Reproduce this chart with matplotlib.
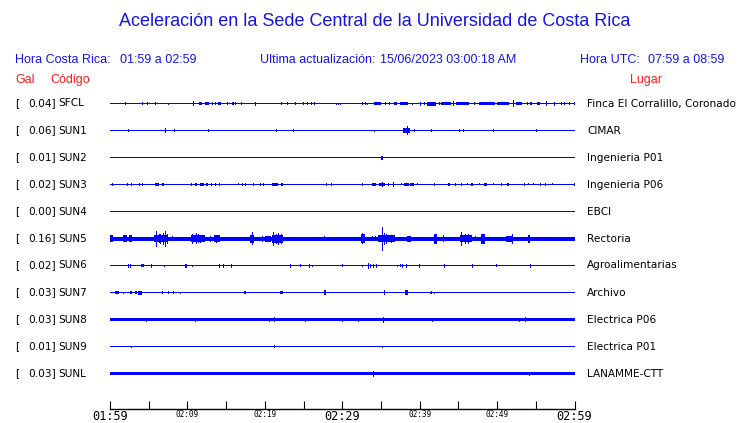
import matplotlib
matplotlib.use("Agg")
import matplotlib.pyplot as plt

# ---------------- data ----------------
codes = ["SFCL", "SUN1", "SUN2", "SUN3", "SUN4", "SUN5", "SUN6", "SUN7", "SUN8", "SUN9", "SUNL"]
gal = ["0.04", "0.06", "0.01", "0.02", "0.00", "0.16", "0.02", "0.03", "0.03", "0.01", "0.03"]
places = ["Finca El Corralillo, Coronado", "CIMAR", "Ingenieria P01", "Ingenieria P06", "EBCI",
          "Rectoria", "Agroalimentarias", "Archivo", "Electrica P06", "Electrica P01", "LANAMME-CTT"]
# half thickness of each quiet trace (px)
base_amp = [0.5, 0.5, 0.5, 0.5, 0.5, 2.0, 0.5, 0.5, 1.5, 0.5, 1.5]

tick_minutes = [0, 5, 10, 15, 20, 25, 30, 35, 40, 45, 50, 55, 60]
tick_labels = ["01:59", "", "02:09", "", "02:19", "", "02:29", "", "02:39", "", "02:49", "", "02:59"]
big_labels = ["01:59", "02:29", "02:59"]

# events: (start minute, end minute, half amplitude px)
EV_SFCL = [(2.0, 2.0, 1.5), (4.17, 4.17, 1.5), (4.82, 4.82, 1.5), (5.85, 5.85, 1.5), (7.5, 7.5, 1.0),
           (10.66, 10.7, 2.5), (11.5, 11.9, 1.5), (12.3, 12.8, 1.5), (13.2, 13.2, 1.5), (13.6, 13.6, 1.5),
           (14.0, 14.3, 1.5), (15.1, 15.1, 1.5), (15.7, 15.7, 1.5), (15.95, 15.95, 1.5), (16.2, 16.2, 1.5),
           (16.9, 16.9, 1.5), (18.7, 18.8, 2.0), (22.1, 22.1, 1.5), (22.9, 22.9, 1.5), (23.9, 23.9, 1.5),
           (24.9, 24.9, 1.5), (25.4, 25.4, 1.5), (26.0, 26.0, 1.5), (26.3, 26.3, 1.5), (29.2, 29.2, 1.0),
           (29.5, 29.5, 1.0), (29.7, 29.7, 1.0), (32.6, 32.6, 1.5), (32.9, 32.9, 1.5), (33.2, 33.2, 1.0),
           (34.1, 35.0, 1.5), (35.5, 35.5, 1.5), (36.0, 36.0, 1.5), (36.7, 37.1, 1.5), (37.5, 38.5, 1.5),
           (39.0, 39.0, 1.0), (40.0, 40.0, 2.0), (40.6, 40.6, 1.5), (41.0, 42.1, 2.0), (42.5, 42.5, 1.5),
           (42.8, 44.1, 1.5), (44.3, 44.35, 2.5), (44.7, 46.4, 1.5), (47.0, 47.0, 1.5), (47.7, 49.7, 1.5),
           (50.0, 51.6, 1.5), (52.0, 52.05, 3.5), (52.5, 53.2, 1.5), (53.8, 54.0, 1.5), (54.3, 54.5, 1.5),
           (55.1, 55.5, 1.5), (56.3, 56.35, 2.5), (57.3, 57.3, 2.0), (58.3, 58.3, 1.5), (58.7, 58.7, 1.5),
           (59.3, 59.3, 1.5), (59.9, 59.9, 1.5)]
EV_SUN1 = [(2.37, 2.37, 1.5), (7.1, 7.15, 2.5), (8.3, 8.3, 1.5), (12.7, 12.7, 1.5), (21.4, 21.6, 1.5),
           (23.7, 23.7, 1.5), (34.1, 34.1, 1.0), (37.9, 38.7, 2.5), (38.3, 38.35, 4.5), (39.3, 39.3, 1.5),
           (41.5, 41.5, 1.5), (45.1, 45.1, 1.5), (45.6, 45.6, 1.5), (49.5, 49.5, 1.5), (55.0, 55.0, 1.5)]
EV_SUN2 = [(35.05, 35.3, 2.0)]
EV_SUN3 = [(0.3, 0.3, 1.5), (2.15, 2.15, 1.5), (2.7, 2.7, 1.5), (3.8, 3.8, 1.5), (4.1, 4.1, 1.5),
           (5.8, 6.3, 1.5), (6.7, 7.0, 1.5), (10.5, 10.5, 1.5), (11.0, 11.3, 1.5), (11.65, 12.1, 1.5),
           (12.4, 12.7, 1.5), (13.1, 13.1, 1.5), (13.5, 13.5, 1.5), (14.1, 14.1, 1.5), (16.5, 16.5, 1.0),
           (17.1, 17.1, 1.5), (17.5, 17.5, 1.5), (18.5, 18.5, 1.5), (19.4, 19.4, 1.5), (19.7, 19.7, 1.5),
           (20.9, 20.9, 1.5), (21.1, 21.7, 1.5), (22.1, 22.4, 1.5), (27.95, 27.95, 1.5), (28.6, 28.6, 1.5),
           (32.5, 32.5, 1.5), (33.8, 33.8, 1.5), (34.0, 34.3, 1.5), (34.8, 35.5, 1.5), (35.1, 35.15, 2.5),
           (35.9, 35.9, 1.5), (36.5, 36.7, 2.5), (37.6, 37.6, 1.0), (38.0, 38.6, 1.5), (38.8, 39.3, 1.5),
           (39.6, 39.6, 1.0), (41.9, 41.9, 1.5), (43.6, 43.9, 1.5), (44.5, 44.5, 1.5), (45.3, 45.3, 1.5),
           (46.1, 46.1, 1.0), (46.6, 46.9, 1.5), (47.7, 47.7, 1.0), (48.3, 48.7, 1.5), (49.5, 49.5, 1.0),
           (50.5, 50.5, 1.5), (51.3, 51.5, 1.5), (53.5, 53.5, 1.5), (54.0, 54.0, 1.0), (54.7, 54.7, 1.0),
           (55.6, 55.6, 1.5), (56.2, 56.2, 1.5), (57.1, 57.1, 1.0), (59.9, 59.9, 1.5)]
EV_SUN4 = []
EV_SUN5 = [(0.0, 0.4, 3.3), (1.7, 2.15, 3.5), (2.45, 2.9, 3.5),
           (5.7, 7.5, 3.5), (6.0, 6.05, 8.0), (6.3, 6.35, 4.5), (6.5, 6.55, 5.0), (6.8, 6.85, 6.0),
           (7.1, 7.15, 8.0), (7.3, 7.35, 5.0), (8.0, 8.0, 2.5),
           (10.4, 12.3, 3.5), (10.6, 10.65, 5.0), (11.1, 11.15, 5.5), (11.35, 11.4, 4.5), (11.6, 11.65, 4.0),
           (12.9, 12.9, 3.0), (13.4, 14.2, 3.5), (13.7, 13.75, 4.0),
           (18.1, 18.6, 4.0), (18.3, 18.35, 6.5),
           (19.6, 19.6, 3.0), (20.0, 20.8, 3.0), (20.9, 22.4, 4.0), (21.1, 21.15, 7.0), (21.4, 21.45, 5.0),
           (21.7, 21.75, 6.0), (22.1, 22.15, 5.0),
           (27.7, 27.7, 2.5), (32.4, 32.9, 4.5), (32.6, 32.65, 5.5), (33.8, 33.8, 2.5), (34.2, 34.2, 2.5),
           (34.6, 36.8, 3.5), (35.1, 35.15, 12.0), (35.4, 35.45, 6.0), (35.7, 35.75, 5.0), (36.3, 36.35, 4.0),
           (38.3, 38.9, 3.0), (41.8, 42.3, 5.0), (43.0, 43.0, 3.5),
           (45.2, 46.7, 3.5), (45.4, 45.45, 7.0), (45.8, 45.85, 5.0), (46.2, 46.25, 5.0),
           (47.2, 47.2, 2.5), (47.9, 48.4, 5.0), (51.2, 52.0, 3.0), (51.9, 51.95, 5.0), (54.0, 54.3, 4.0)]
EV_SUN6 = [(2.36, 2.36, 2.0), (2.6, 2.6, 2.0), (4.0, 4.35, 1.5), (5.3, 5.3, 2.0), (7.0, 7.0, 1.0),
           (9.7, 9.9, 2.0), (10.6, 10.6, 1.0), (14.1, 14.1, 2.0), (14.6, 14.6, 2.0), (15.6, 15.8, 2.0),
           (23.3, 23.3, 2.0), (24.55, 24.55, 1.5), (25.7, 25.7, 2.0), (26.1, 26.1, 1.0), (30.0, 30.0, 1.5),
           (32.6, 32.6, 1.0), (33.3, 33.35, 3.0), (33.6, 33.6, 2.0), (34.0, 34.0, 2.0), (34.3, 34.3, 2.0),
           (37.1, 37.1, 1.0), (37.4, 37.4, 1.5), (37.7, 37.9, 2.0), (38.2, 38.4, 2.0), (39.95, 40.1, 2.0),
           (43.2, 43.3, 2.0), (46.7, 46.8, 2.0), (49.8, 49.8, 1.5), (54.3, 54.4, 2.0)]
EV_SUN7 = [(0.65, 1.1, 1.5), (1.7, 1.7, 1.0), (2.6, 2.9, 1.5), (3.2, 3.2, 1.5), (3.4, 3.4, 1.5),
           (3.65, 4.1, 2.0), (6.75, 6.75, 1.5), (7.5, 7.5, 1.5), (8.2, 8.2, 1.5), (9.0, 9.0, 1.0),
           (17.3, 17.6, 1.5), (21.9, 22.4, 1.5), (27.6, 27.9, 2.5), (35.4, 35.45, 2.5), (38.05, 38.5, 2.5),
           (41.3, 41.3, 1.0), (41.5, 41.6, 1.5), (41.9, 41.9, 1.0)]
EV_SUN8 = [(4.6, 4.6, 2.0), (11.0, 11.0, 2.0), (20.6, 20.6, 2.0), (21.2, 21.2, 2.5), (25.2, 25.2, 2.0),
           (30.0, 30.0, 2.0), (32.0, 32.0, 2.0), (35.2, 35.35, 3.0), (41.6, 41.6, 2.0), (52.8, 52.8, 2.0),
           (53.6, 53.6, 2.5)]
EV_SUN9 = [(2.7, 2.7, 1.0), (21.2, 21.2, 1.5), (35.1, 35.1, 1.0)]
EV_SUNL = [(34.0, 34.0, 3.0), (54.1, 54.1, 2.0)]
events = [EV_SFCL, EV_SUN1, EV_SUN2, EV_SUN3, EV_SUN4, EV_SUN5, EV_SUN6, EV_SUN7, EV_SUN8, EV_SUN9, EV_SUNL]

# ---------------- layout ----------------
W, H = 740, 423
BLUE = "#0000ff"
TBLUE = "#1414e8"
RED = "#ff1a1a"
row0, row_step = 103.5, 27.0
axis_y = 409

fig = plt.figure(figsize=(W / 100, H / 100), dpi=100)
ax = fig.add_axes([110 / W, (H - axis_y) / H, 464.5 / W, axis_y / H])
ax.set_xlim(0, 60)
ax.set_ylim(axis_y, 0)
for s in ["top", "left", "right"]:
    ax.spines[s].set_visible(False)
ax.spines["bottom"].set_linewidth(1.0)
ax.set_yticks([])
ax.set_xticks(tick_minutes)
ax.set_xticklabels(tick_labels)
ax.tick_params(axis="x", direction="in", length=6.0, width=0.8, pad=0.8)
for lab in ax.get_xticklabels():
    lab.set_family("DejaVu Sans Mono")
    lab.set_fontsize(8.6 if lab.get_text() in big_labels else 5.6)

px_min = 60 / 464.5
for i, evs in enumerate(events):
    yc = row0 + i * row_step
    b = base_amp[i]
    ax.bar(0, 2 * b, width=60, bottom=yc - b, align="edge", color=BLUE, linewidth=0,
           antialiased=False)
    for (s, e, a) in evs:
        w = max(e - s, px_min)
        ax.bar(s, 2 * a, width=w, bottom=yc - a, align="edge", color=BLUE, linewidth=0,
               antialiased=False)

    fy = 1 - yc / H
    fig.text(15 / W, fy, "[", fontsize=7.6, family="DejaVu Sans", va="center", ha="left")
    fig.text(56 / W, fy, gal[i] + "]", fontsize=7.6, family="DejaVu Sans", va="center", ha="right")
    fig.text(58 / W, fy, codes[i], fontsize=7.6, family="DejaVu Sans", va="center", ha="left")
    fig.text(587 / W, fy, places[i], fontsize=7.6, family="DejaVu Sans", va="center", ha="left")

def ft(x, y, s, **kw):
    fig.text(x / W, 1 - y / H, s, va="center", family="Liberation Sans", **kw)

ft(375, 22, "Aceleración en la Sede Central de la Universidad de Costa Rica", fontsize=13,
   color=TBLUE, ha="center")
ft(15, 60, "Hora Costa Rica:", fontsize=9, color=TBLUE, ha="left")
ft(120, 60, "01:59 a 02:59", fontsize=9, color=TBLUE, ha="left")
ft(260, 60, "Ultima actualización:", fontsize=9, color=TBLUE, ha="left")
ft(380, 60, "15/06/2023 03:00:18 AM", fontsize=9, color=TBLUE, ha="left")
ft(580, 60, "Hora UTC:", fontsize=9, color=TBLUE, ha="left")
ft(724, 60, "07:59 a 08:59", fontsize=9, color=TBLUE, ha="right")
ft(15, 80, "Gal", fontsize=9, color=RED, ha="left")
ft(50, 80, "Código", fontsize=9, color=RED, ha="left")
ft(662, 80, "Lugar", fontsize=9, color=RED, ha="right")

fig.savefig("out.png", dpi=100)
